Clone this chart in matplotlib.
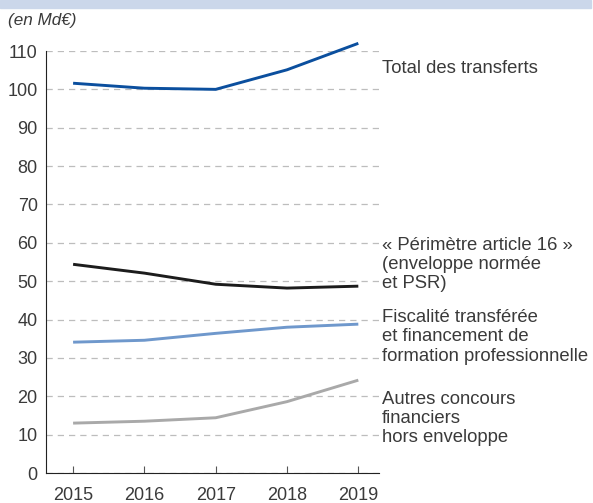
import matplotlib.pyplot as plt
from matplotlib.patches import Rectangle

plt.rcParams["font.family"] = ["Liberation Sans", "DejaVu Sans"]

years = [2015, 2016, 2017, 2018, 2019]
total_transferts = [101.6, 100.3, 100.0, 105.1, 112.0]
perimetre_art16 = [54.4, 52.1, 49.2, 48.2, 48.7]
fiscalite_transferee = [34.1, 34.6, 36.4, 38.0, 38.8]
autres_concours = [13.0, 13.5, 14.4, 18.6, 24.2]

series = [
    (total_transferts, "#0b4f9e", "Total des transferts", 107.6),
    (perimetre_art16, "#1c1c1c", "« Périmètre article 16 »\n(enveloppe normée\net PSR)", 61.6),
    (fiscalite_transferee, "#6f98cc", "Fiscalité transférée\net financement de\nformation professionnelle", 42.7),
    (autres_concours, "#a9a9a9", "Autres concours\nfinanciers\nhors enveloppe", 21.4),
]
text_color = "#3a3a3a"

fig = plt.figure(figsize=(5.93, 5.03), dpi=100)
fig.patches.append(Rectangle((0, 1 - 8 / 503), 591 / 593, 8 / 503,
                             transform=fig.transFigure, color="#cbd7ea", zorder=0))
ax = fig.add_axes([46 / 593, 1 - 473 / 503, (379 - 46) / 593, (473 - 51) / 503])

for values, color, label, label_y in series:
    ax.plot(years, values, color=color, lw=2.1, solid_capstyle="butt", zorder=3,
            clip_on=False)
    ax.text(2019.33, label_y, label, ha="left", va="top", fontsize=13.3,
            color=text_color, linespacing=1.17, clip_on=False)

ax.set_xlim(2014.62, 2019.29)
ax.set_ylim(0, 110)
ax.set_xticks(years)
ax.set_yticks(range(0, 111, 10))
ax.yaxis.grid(True, color="#bdbdbd", ls=(0, (5, 4)), lw=0.9)
ax.set_axisbelow(True)
for side in ["top", "right"]:
    ax.spines[side].set_visible(False)
ax.spines["left"].set_color("#222222")
ax.spines["bottom"].set_color("#222222")
ax.tick_params(axis="y", length=0, pad=6, labelsize=13, labelcolor=text_color)
ax.tick_params(axis="x", direction="in", length=5, width=0.8, color="#555555",
               pad=10, labelsize=13, labelcolor=text_color)

fig.text(8 / 593, 1 - 21 / 503, "(en Md€)", style="italic", fontsize=12.3,
         color=text_color, ha="left", va="center")

fig.savefig("out.png", dpi=100)
